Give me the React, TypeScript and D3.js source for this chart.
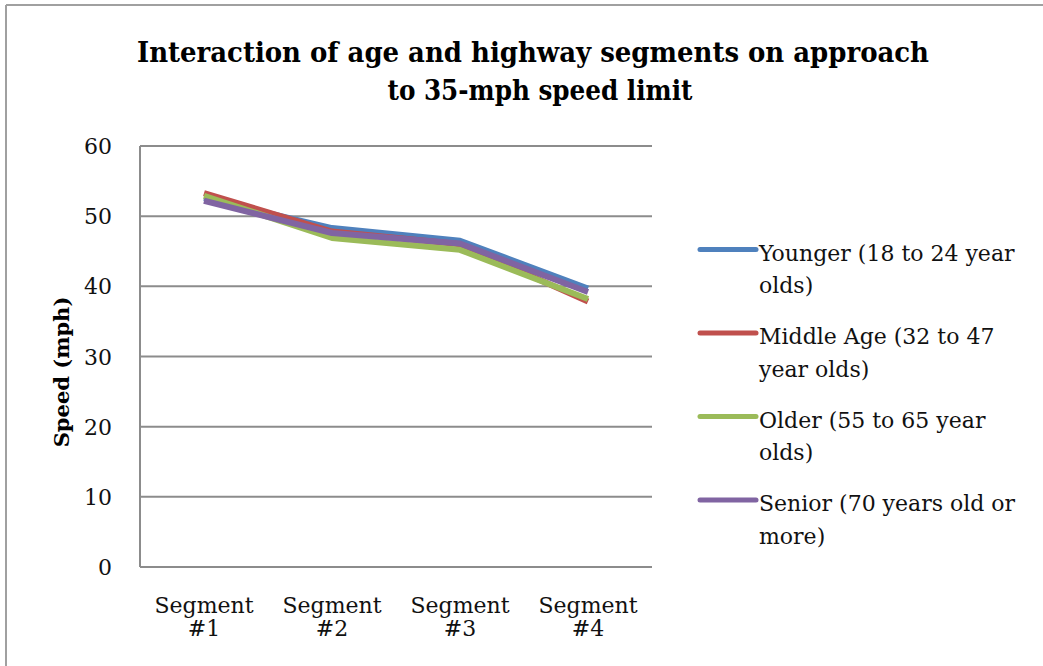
import React from "react";
import * as d3 from "d3";

const categories = ["Segment #1", "Segment #2", "Segment #3", "Segment #4"];
const seriesNames = [
  "Younger (18 to 24 year olds)",
  "Middle Age (32 to 47 year olds)",
  "Older (55 to 65 year olds)",
  "Senior (70 years old or more)",
];
const legendLines = [
  ["Younger (18 to 24 year", "olds)"],
  ["Middle Age (32 to 47", "year olds)"],
  ["Older (55 to 65 year", "olds)"],
  ["Senior (70 years old or", "more)"],
];
const younger = [52.6, 48.3, 46.5, 39.7];
const middleAge = [53.3, 47.8, 46.0, 37.85];
const older = [52.9, 46.9, 45.2, 38.2];
const senior = [52.2, 47.6, 46.1, 39.2];
const seriesValues = [younger, middleAge, older, senior];
const colors = ["#4F81BD", "#C0504D", "#9BBB59", "#8064A2"];
const yTicks = [0, 10, 20, 30, 40, 50, 60];
const titleLines = ["Interaction of age and highway segments on approach", "to 35-mph speed limit"];
const yTitle = "Speed (mph)";

const W = 1043;
const H = 666;
const plot = { left: 140, right: 652, top: 146, bottom: 567 };

export default function App() {
  const x = d3
    .scalePoint<string>()
    .domain(categories)
    .range([plot.left, plot.right])
    .padding(0.5);
  const y = d3.scaleLinear().domain([0, 60]).range([plot.bottom, plot.top]);
  const line = d3
    .line<number>()
    .x((_, i) => x(categories[i]) as number)
    .y((d) => y(d));
  const serif = "'DejaVu Serif', serif";
  const gray = "#8c8c8c";

  return (
    <svg
      width={W}
      height={H}
      style={{ position: "absolute", left: 0, top: 0, background: "#fff" }}
    >
      <rect x={0} y={0} width={W} height={H} fill="#fff" />
      <line x1={6} y1={5} x2={W} y2={5} stroke="#a0a0a0" strokeWidth={2} />
      <line x1={6} y1={5} x2={6} y2={H} stroke="#a0a0a0" strokeWidth={2} />

      {titleLines.map((t, i) => (
        <text
          key={t}
          x={i === 0 ? 533 : 540}
          y={i === 0 ? 62 : 100}
          textAnchor="middle"
          fontFamily="'DejaVu Serif Condensed', 'DejaVu Serif', serif"
          fontWeight="bold"
          fontSize={28}
          fill="#000"
          textLength={i === 0 ? 792 : 305}
          lengthAdjust="spacingAndGlyphs"
        >
          {t}
        </text>
      ))}

      {yTicks.map((t) => (
        <line
          key={t}
          x1={plot.left}
          x2={plot.right}
          y1={y(t)}
          y2={y(t)}
          stroke={gray}
          strokeWidth={2}
        />
      ))}
      <line x1={plot.left} x2={plot.left} y1={plot.top} y2={plot.bottom} stroke={gray} strokeWidth={2} />

      {yTicks.map((t) => (
        <text
          key={"l" + t}
          x={112}
          y={y(t) + 8}
          textAnchor="end"
          fontFamily={serif}
          fontSize={22}
          fill="#111"
        >
          {t}
        </text>
      ))}

      <text
        transform={`translate(69,372) rotate(-90)`}
        textAnchor="middle"
        fontFamily={serif}
        fontWeight="bold"
        fontSize={21}
        fill="#000"
      >
        {yTitle}
      </text>

      {categories.map((c) => {
        const [a, b] = [c.split(" ")[0], c.split(" ")[1]];
        const cx = x(c) as number;
        return (
          <g key={c}>
            <text x={cx} y={613} textAnchor="middle" fontFamily={serif} fontSize={22} fill="#111">
              {a}
            </text>
            <text x={cx} y={636} textAnchor="middle" fontFamily={serif} fontSize={22} fill="#111">
              {b}
            </text>
          </g>
        );
      })}

      {seriesValues.map((vals, i) => (
        <path
          key={seriesNames[i]}
          d={line(vals) || ""}
          fill="none"
          stroke={colors[i]}
          strokeWidth={6}
          strokeLinejoin="round"
        />
      ))}

      {legendLines.map((ls, i) => {
        const baseY = [260.5, 344, 427.5, 511][i];
        return (
          <g key={seriesNames[i]}>
            <line
              x1={700}
              x2={756}
              y1={baseY - 11}
              y2={baseY - 11}
              stroke={colors[i]}
              strokeWidth={5}
              strokeLinecap="round"
            />
            {ls.map((s, j) => (
              <text
                key={s}
                x={759}
                y={baseY + j * 32.5}
                fontFamily={serif}
                fontSize={22}
                fill="#111"
              >
                {s}
              </text>
            ))}
          </g>
        );
      })}
    </svg>
  );
}
